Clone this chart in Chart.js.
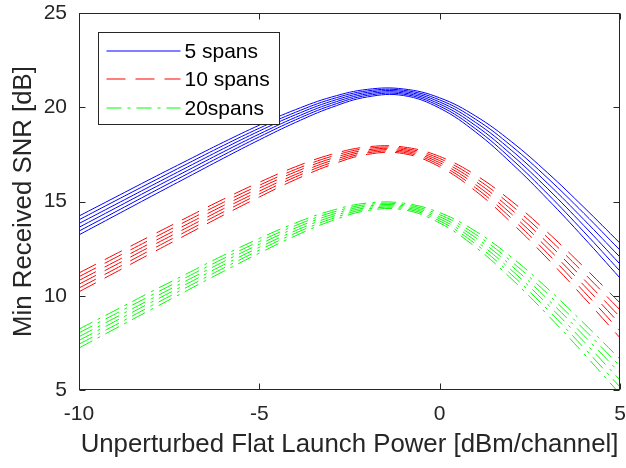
<!DOCTYPE html>
<html>
<head>
<meta charset="utf-8">
<script src="https://cdn.jsdelivr.net/npm/chart.js@4.4.1/dist/chart.umd.min.js"></script>
<style>
  html, body { margin: 0; padding: 0; background: #fff; }
</style>
</head>
<body>
<canvas id="snrChart" width="626" height="468"></canvas>
<script>
// Min received SNR vs. unperturbed flat launch power
// x grid (dBm/channel)
const powerDbm = [-10, -9, -8, -7, -6, -5, -4, -3, -2, -1, 0, 1, 2, 3, 4, 5];

// 5 spans (6 curves, dB)
const snr5spans = [
    [14.23, 15.22, 16.21, 17.18, 18.14, 19.05, 19.87, 20.54, 20.95, 20.97, 20.50, 19.53, 18.16, 16.51, 14.69, 12.79],
    [14.03, 15.03, 16.02, 17.00, 17.97, 18.89, 19.73, 20.43, 20.87, 20.90, 20.39, 19.36, 17.93, 16.23, 14.37, 12.42],
    [13.83, 14.83, 15.83, 16.82, 17.80, 18.74, 19.60, 20.32, 20.79, 20.83, 20.28, 19.19, 17.70, 15.95, 14.04, 12.05],
    [13.63, 14.64, 15.65, 16.64, 17.63, 18.58, 19.46, 20.21, 20.71, 20.76, 20.17, 19.02, 17.47, 15.67, 13.72, 11.68],
    [13.43, 14.44, 15.46, 16.46, 17.46, 18.43, 19.33, 20.10, 20.63, 20.69, 20.06, 18.85, 17.24, 15.39, 13.39, 11.31],
    [13.23, 14.25, 15.27, 16.28, 17.29, 18.27, 19.19, 19.99, 20.55, 20.62, 19.95, 18.68, 17.01, 15.11, 13.07, 10.94]
];

// 10 spans
const snr10spans = [
    [11.21, 12.20, 13.19, 14.16, 15.12, 16.02, 16.84, 17.50, 17.90, 17.89, 17.39, 16.40, 15.01, 13.35, 11.52, 9.62],
    [11.01, 12.01, 13.00, 13.98, 14.95, 15.86, 16.70, 17.39, 17.82, 17.82, 17.28, 16.23, 14.78, 13.07, 11.20, 9.25],
    [10.81, 11.81, 12.81, 13.80, 14.78, 15.71, 16.57, 17.28, 17.74, 17.75, 17.17, 16.06, 14.55, 12.79, 10.87, 8.88],
    [10.61, 11.62, 12.63, 13.62, 14.61, 15.55, 16.43, 17.17, 17.66, 17.68, 17.06, 15.89, 14.32, 12.51, 10.55, 8.51],
    [10.41, 11.42, 12.44, 13.44, 14.44, 15.40, 16.30, 17.06, 17.58, 17.61, 16.95, 15.72, 14.09, 12.23, 10.22, 8.14],
    [10.21, 11.23, 12.25, 13.26, 14.27, 15.24, 16.16, 16.95, 17.50, 17.54, 16.84, 15.55, 13.86, 11.95, 9.90, 7.77]
];

// 20 spans
const snr20spans = [
    [8.23, 9.22, 10.21, 11.18, 12.14, 13.04, 13.86, 14.52, 14.92, 14.91, 14.41, 13.42, 12.03, 10.37, 8.54, 6.64],
    [8.03, 9.03, 10.02, 11.00, 11.97, 12.88, 13.72, 14.41, 14.84, 14.84, 14.30, 13.25, 11.80, 10.09, 8.22, 6.27],
    [7.83, 8.83, 9.83, 10.82, 11.80, 12.73, 13.59, 14.30, 14.76, 14.77, 14.19, 13.08, 11.57, 9.81, 7.89, 5.90],
    [7.63, 8.64, 9.65, 10.64, 11.63, 12.57, 13.45, 14.19, 14.68, 14.70, 14.08, 12.91, 11.34, 9.53, 7.57, 5.53],
    [7.43, 8.44, 9.46, 10.46, 11.46, 12.42, 13.32, 14.08, 14.60, 14.63, 13.97, 12.74, 11.11, 9.25, 7.24, 5.16],
    [7.23, 8.25, 9.27, 10.28, 11.29, 12.26, 13.18, 13.97, 14.52, 14.56, 13.86, 12.57, 10.88, 8.97, 6.92, 4.79]
];

const xTicks = [-10, -5, 0, 5];
const yTicks = [5, 10, 15, 20, 25];

const groups = [
    { label: '5 spans', color: '#0000ff', dash: [], lines: snr5spans },
    { label: '10 spans', color: '#ff0000', dash: [19, 10], lines: snr10spans },
    { label: '20spans', color: '#00ff00', dash: [15, 6, 3, 6], lines: snr20spans }
];

const FONT = "'Liberation Sans', Arial, sans-serif";
const AXIS_COLOR = '#262626';

const datasets = [];
groups.forEach(g => {
    g.lines.forEach(line => {
        datasets.push({
            label: g.label,
            data: powerDbm.map((x, i) => ({ x: x, y: line[i] })),
            borderColor: g.color,
            borderWidth: 1,
            borderDash: g.dash,
            pointRadius: 0,
            tension: 0.4,
            fill: false
        });
    });
});

// box, inward ticks and legend, matlab style
const matlabFrame = {
    id: 'matlabFrame',
    afterDraw(chart) {
        const ctx = chart.ctx;
        const area = chart.chartArea;
        const xs = chart.scales.x, ys = chart.scales.y;
        const L = Math.round(area.left) + 0.5, R = Math.round(area.right) - 0.5;
        const T = Math.round(area.top) + 0.5, B = Math.round(area.bottom) - 0.5;
        const tl = 6;

        ctx.save();
        ctx.globalAlpha = 1;
        ctx.strokeStyle = AXIS_COLOR;
        ctx.lineWidth = 1;
        ctx.setLineDash([]);
        ctx.strokeRect(L, T, R - L, B - T);

        ctx.beginPath();
        xTicks.forEach(v => {
            const px = Math.round(xs.getPixelForValue(v)) + 0.5;
            ctx.moveTo(px, B); ctx.lineTo(px, B - tl);
            ctx.moveTo(px, T); ctx.lineTo(px, T + tl);
        });
        yTicks.forEach(v => {
            const py = Math.round(ys.getPixelForValue(v)) + 0.5;
            ctx.moveTo(L, py); ctx.lineTo(L + tl, py);
            ctx.moveTo(R, py); ctx.lineTo(R - tl, py);
        });
        ctx.stroke();

        // legend
        const bx = Math.round(area.left) + 19.5, by = Math.round(area.top) + 19.5;
        const bw = 181, bh = 92;
        ctx.fillStyle = '#ffffff';
        ctx.fillRect(bx, by, bw, bh);
        ctx.strokeRect(bx, by, bw, bh);
        ctx.font = '21px ' + FONT;
        ctx.textBaseline = 'middle';
        groups.forEach((g, i) => {
            const y = Math.round(by + 18 + i * 28.5);
            ctx.beginPath();
            ctx.lineWidth = 1.2;
            ctx.strokeStyle = g.color;
            ctx.setLineDash(g.dash);
            ctx.moveTo(bx + 8, y);
            ctx.lineTo(bx + 82, y);
            ctx.stroke();
            ctx.fillStyle = '#000000';
            ctx.fillText(g.label, bx + 86, y + 1);
        });
        ctx.restore();
    }
};

new Chart(document.getElementById('snrChart'), {
    type: 'line',
    data: { datasets: datasets },
    options: {
        responsive: false,
        animation: false,
        devicePixelRatio: 1,
        layout: { padding: { top: 13, right: 6, left: 0, bottom: 0 } },
        plugins: {
            legend: { display: false },
            tooltip: { enabled: false }
        },
        scales: {
            x: {
                type: 'linear',
                min: -10,
                max: 5,
                grid: { display: false, drawTicks: false },
                border: { display: false },
                afterBuildTicks: s => { s.ticks = xTicks.map(v => ({ value: v })); },
                afterFit: s => {
                    s.height = 78;
                    s.paddingLeft = 0;
                    s.paddingRight = 0;
                },
                ticks: {
                    color: AXIS_COLOR,
                    padding: 12,
                    maxRotation: 0,
                    font: { family: FONT, size: 21 }
                },
                title: {
                    display: true,
                    text: 'Unperturbed Flat Launch Power [dBm/channel]',
                    color: AXIS_COLOR,
                    font: { family: FONT, size: 25.8 },
                    padding: { top: 0, bottom: 8 }
                }
            },
            y: {
                min: 5,
                max: 25,
                grid: { display: false, drawTicks: false },
                border: { display: false },
                afterBuildTicks: s => { s.ticks = yTicks.map(v => ({ value: v })); },
                afterFit: s => {
                    s.width = 79;
                    s.paddingTop = 0;
                    s.paddingBottom = 0;
                },
                ticks: {
                    color: AXIS_COLOR,
                    padding: 12,
                    font: { family: FONT, size: 21 }
                },
                title: {
                    display: true,
                    text: 'Min Received SNR [dB]',
                    color: AXIS_COLOR,
                    font: { family: FONT, size: 25.8 },
                    padding: { top: 8, bottom: 0 }
                }
            }
        }
    },
    plugins: [matlabFrame]
});
</script>
</body>
</html>
